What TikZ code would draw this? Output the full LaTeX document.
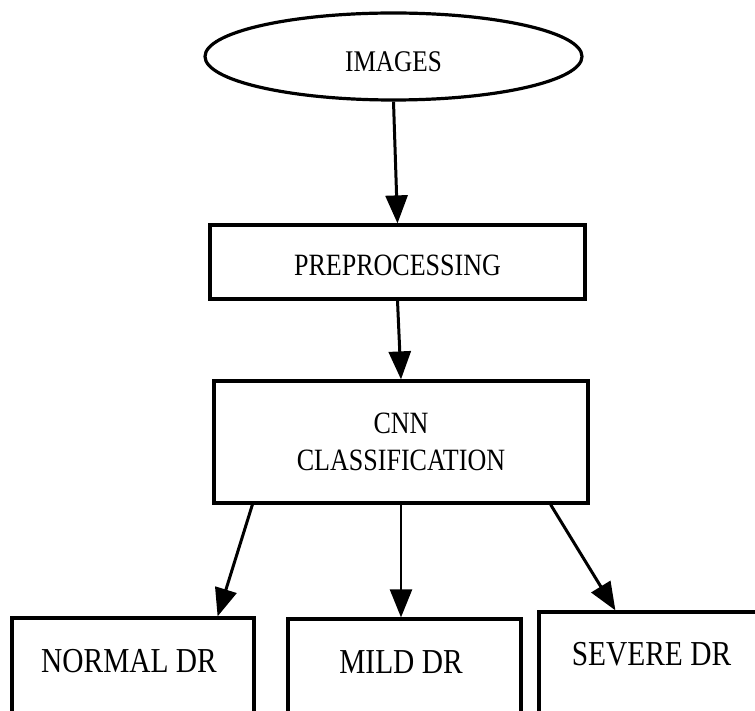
\documentclass[tikz,border=0pt]{standalone}
\usepackage{fontspec}
\setmainfont{Liberation Serif}
\usetikzlibrary{shapes.geometric,arrows.meta}
\newcommand{\nx}[1]{\scalebox{0.84}[1]{#1}}
\begin{document}
\begin{tikzpicture}[x=1pt,y=-1pt,
  shapeline/.style={draw=black,line width=3.2pt},
  boxnode/.style={shapeline,rectangle,inner sep=0pt},
  arr/.style={line width=3pt,-{Triangle[length=28pt,width=22pt]}},
]
\clip (0,0) rectangle (755,711);
\node[shapeline,ellipse,inner sep=0pt,minimum width=377pt,minimum height=87pt,
      font=\fontsize{30}{36}\selectfont,text height=31pt,text depth=0pt] (img) at (393.5,56.5) {\nx{IMAGES}};
\node[boxnode,minimum width=375pt,minimum height=74pt,
      font=\fontsize{31}{37}\selectfont,text height=27.5pt,text depth=0pt] (pre) at (397.5,262) {\nx{PREPROCESSING}};
\node[boxnode,minimum width=374pt,minimum height=122pt,align=center,
      font=\fontsize{31}{37}\selectfont] (cnn) at (401,442) {\nx{CNN}\\\nx{CLASSIFICATION}};
\node[boxnode,minimum width=242pt,minimum height=112pt,
      font=\fontsize{35}{42}\selectfont,text height=0pt,text depth=3.8pt] (normal) at (133,674) {\hspace*{-8pt}\nx{NORMAL DR}};
\node[boxnode,minimum width=233pt,minimum height=111pt,
      font=\fontsize{35}{42}\selectfont,text height=0pt,text depth=1.8pt] (mild) at (404.5,674.5) {\hspace*{-7pt}\nx{MILD DR}};
\node[boxnode,minimum width=231pt,minimum height=118pt,
      font=\fontsize{35}{42}\selectfont,text height=0pt,text depth=10.8pt] (severe) at (654.5,671) {\hspace*{-6pt}\nx{SEVERE DR}};
\draw[arr] (img.south) -- (pre.north);
\draw[arr] (pre.south) -- (cnn.north);
\draw[arr] ([xshift=40pt]cnn.south west) -- ([xshift=-38pt]normal.north east);
\draw[arr,line width=2.4pt] (cnn.south) -- (cnn.south |- mild.north);
\draw[arr] ([xshift=-39pt]cnn.south east) -- ([xshift=78pt]severe.north west);
\end{tikzpicture}
\end{document}
